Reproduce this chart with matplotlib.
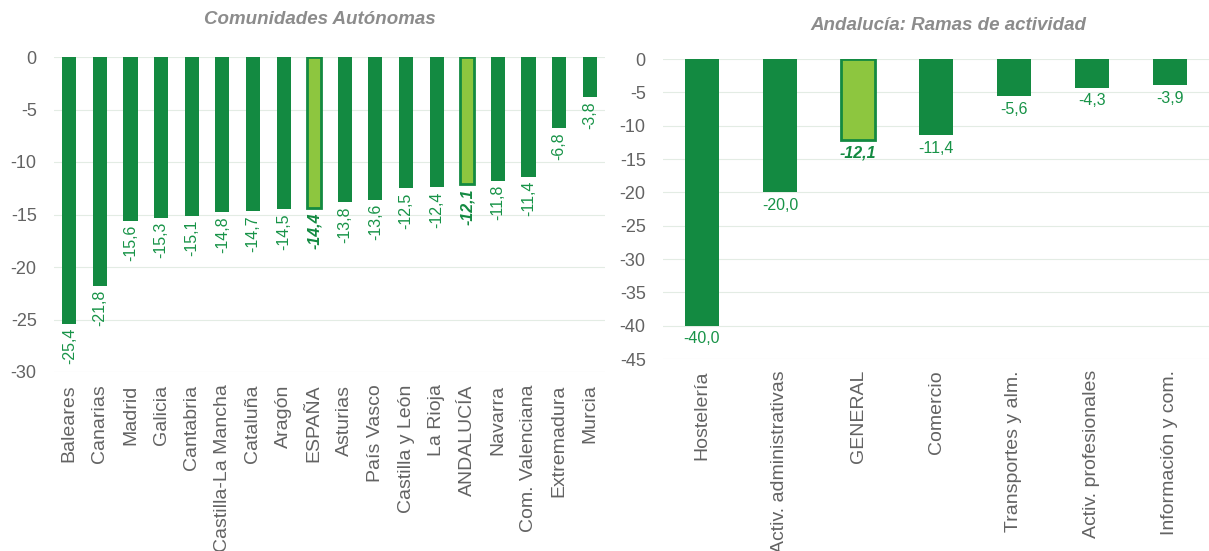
import matplotlib
matplotlib.use("Agg")
import matplotlib.pyplot as plt

plt.rcParams['font.family'] = ['Liberation Sans', 'DejaVu Sans']

# Data
ccaa = ["Baleares", "Canarias", "Madrid", "Galicia", "Cantabria", "Castilla-La Mancha",
        "Cataluña", "Aragón", "ESPAÑA", "Asturias", "País Vasco", "Castilla y León",
        "La Rioja", "ANDALUCÍA", "Navarra", "Com. Valenciana", "Extremadura", "Murcia"]
ccaa_vals = [-25.4, -21.8, -15.6, -15.3, -15.1, -14.8, -14.7, -14.5, -14.4, -13.8,
             -13.6, -12.5, -12.4, -12.1, -11.8, -11.4, -6.8, -3.8]
ccaa_highlight = ["ESPAÑA", "ANDALUCÍA"]

ramas = ["Hostelería", "Activ. administrativas", "GENERAL", "Comercio",
         "Transportes y alm.", "Activ. profesionales", "Información y com."]
ramas_vals = [-40.0, -20.0, -12.1, -11.4, -5.6, -4.3, -3.9]
ramas_highlight = ["GENERAL"]

left_ticks = [0, -5, -10, -15, -20, -25, -30]
right_ticks = [0, -5, -10, -15, -20, -25, -30, -35, -40, -45]

DARK = "#138a41"
LABEL = "#179347"
LIGHT = "#8dc63f"
GRID = "#e3ece4"
TICK = "#636363"
TITLE = "#8c8c8c"

W, H = 1209, 551
fig = plt.figure(figsize=(W/100, H/100), dpi=100)

def fmt(v):
    return f"{v:.1f}".replace(".", ",")

# Left chart
axL = fig.add_axes([54/W, 1-372/H, (605-54)/W, (372-57)/H])
xs = range(len(ccaa))
for i, (c, v) in enumerate(zip(ccaa, ccaa_vals)):
    hl = c in ccaa_highlight
    axL.bar(i, v, width=0.46, color=LIGHT if hl else DARK,
            edgecolor=DARK, linewidth=2 if hl else 0, zorder=3)
    axL.annotate(fmt(v), (i, v), xytext=(0, -3), textcoords="offset points",
                 rotation=90, ha="center", va="top", color=DARK if hl else LABEL,
                 fontsize=11.5,
                 fontweight="bold" if hl else "normal",
                 fontstyle="italic" if hl else "normal")
axL.set_xlim(-0.5, len(ccaa)-0.5)
axL.set_ylim(-30, 0)
axL.set_yticks(left_ticks)
axL.set_yticklabels([str(t) for t in left_ticks])
axL.set_xticks(list(xs))
axL.set_xticklabels(ccaa, rotation=90)
axL.tick_params(axis="both", length=0, colors=TICK)
axL.tick_params(axis="y", pad=12.5, labelsize=13)
axL.tick_params(axis="x", pad=9, labelsize=14)
axL.yaxis.grid(True, color=GRID, linewidth=0.8, zorder=0)
axL.set_axisbelow(True)
for s in axL.spines.values():
    s.set_visible(False)

# Right chart
axR = fig.add_axes([663/W, 1-359/H, (1209-663)/W, (359-59)/H])
for i, (c, v) in enumerate(zip(ramas, ramas_vals)):
    hl = c in ramas_highlight
    axR.bar(i, v, width=0.44, color=LIGHT if hl else DARK,
            edgecolor=DARK, linewidth=2 if hl else 0, zorder=3)
    axR.annotate(fmt(v), (i, v), xytext=(0, -4), textcoords="offset points",
                 ha="center", va="top", color=DARK if hl else LABEL, fontsize=11.5,
                 fontweight="bold" if hl else "normal",
                 fontstyle="italic" if hl else "normal")
axR.set_xlim(-0.5, len(ramas)-0.5)
axR.set_ylim(-45, 0)
axR.set_yticks(right_ticks)
axR.set_yticklabels([str(t) for t in right_ticks])
axR.set_xticks(range(len(ramas)))
axR.set_xticklabels(ramas, rotation=90)
axR.tick_params(axis="both", length=0, colors=TICK)
axR.tick_params(axis="y", pad=12.5, labelsize=13)
axR.tick_params(axis="x", pad=8, labelsize=14)
axR.yaxis.grid(True, color=GRID, linewidth=0.8, zorder=0)
axR.set_axisbelow(True)
for s in axR.spines.values():
    s.set_visible(False)

fig.text(320/W, 1-20/H, "Comunidades Autónomas", ha="center", va="center",
         color=TITLE, fontsize=13.5, fontweight="bold", fontstyle="italic")
fig.text(948/W, 1-25/H, "Andalucía: Ramas de actividad", ha="center", va="center",
         color=TITLE, fontsize=13.5, fontweight="bold", fontstyle="italic")

fig.savefig("out.png", dpi=100)
